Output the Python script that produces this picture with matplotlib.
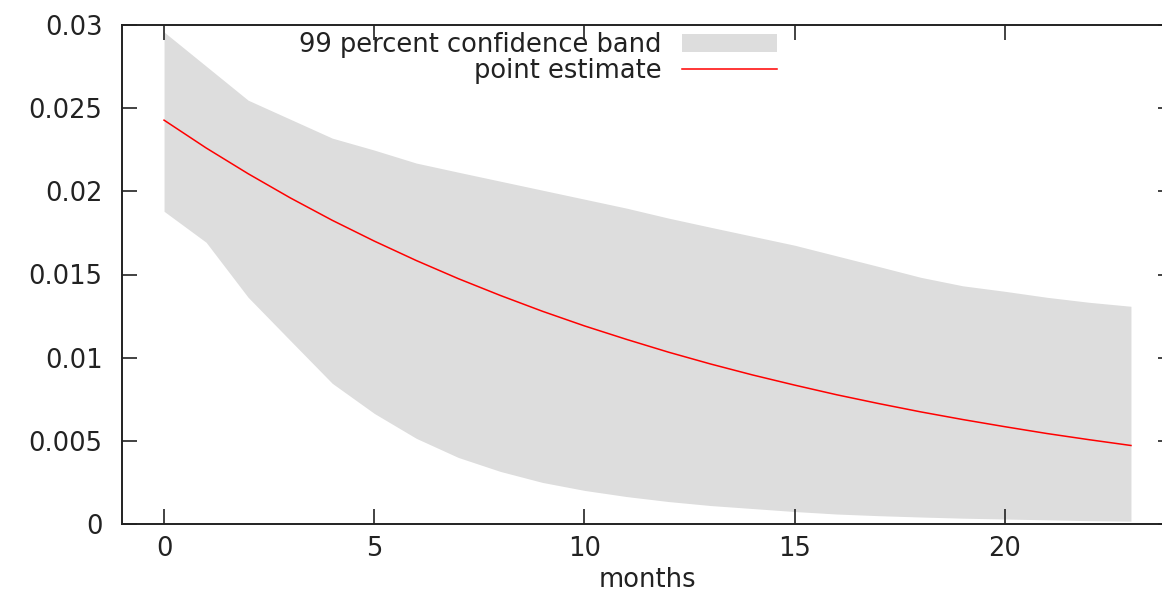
import numpy as np
import matplotlib.pyplot as plt
from matplotlib.ticker import FuncFormatter

# months after the shock
months = np.arange(0, 24)

# point estimate (red line)
point_est = [0.02428, 0.02261, 0.02106, 0.01961, 0.01826, 0.01701, 0.01584, 0.01475,
             0.01374, 0.01279, 0.01191, 0.01110, 0.01033, 0.00962, 0.00896, 0.00835,
             0.00777, 0.00724, 0.00674, 0.00628, 0.00585, 0.00544, 0.00507, 0.00472]

# 99 percent band edges
band_hi = [0.02958, 0.02753, 0.02548, 0.02434, 0.02320, 0.02248, 0.02170, 0.02115,
           0.02061, 0.02007, 0.01953, 0.01899, 0.01839, 0.01784, 0.01730, 0.01676,
           0.01612, 0.01548, 0.01483, 0.01432, 0.01399, 0.01363, 0.01333, 0.01309]
band_lo = [0.01880, 0.01694, 0.01363, 0.01104, 0.00846, 0.00665, 0.00515, 0.00400,
           0.00316, 0.00250, 0.00202, 0.00165, 0.00135, 0.00111, 0.00093, 0.00075,
           0.00060, 0.00050, 0.00042, 0.00035, 0.00030, 0.00025, 0.00020, 0.00017]

plt.rcParams['font.family'] = ['DejaVu Sans']
plt.rcParams['font.size'] = 18.5

W, H = 1162, 591
fig = plt.figure(figsize=(W / 100, H / 100), dpi=100)
# right spine sits just past the image edge, like the original crop
ax = fig.add_axes([122 / W, (H - 524) / H, (1173 - 122) / W, (524 - 25) / H])

ax.fill_between(months, band_lo, band_hi, color='#dddddd', linewidth=0,
                label='99 percent confidence band')
ax.plot(months, point_est, color='red', linewidth=1.1, label='point estimate')

ax.set_xlim(-1, 24)
ax.set_ylim(0, 0.03)
ax.set_xticks([0, 5, 10, 15, 20])
ax.set_yticks([0, 0.005, 0.01, 0.015, 0.02, 0.025, 0.03])
ax.yaxis.set_major_formatter(FuncFormatter(lambda v, p: '%g' % v))
ax.tick_params(direction='in', length=11, width=1.2, top=True, right=True,
               colors='#222222', labelcolor='#222222')
ax.tick_params(axis='y', pad=14)
ax.tick_params(axis='x', pad=9)
for s in ax.spines.values():
    s.set_linewidth(1.4)
    s.set_color('#222222')

ax.set_xlabel('months', color='#222222', labelpad=3)

leg = ax.legend(loc='upper right', bbox_to_anchor=(777 / W, 1 - 32 / H),
                bbox_transform=fig.transFigure, frameon=False, markerfirst=False,
                handlelength=3.7, handletextpad=0.78, labelspacing=0.0,
                borderpad=0, borderaxespad=0)
for t in leg.get_texts():
    t.set_color('#222222')

fig.savefig('out.png', dpi=100)
